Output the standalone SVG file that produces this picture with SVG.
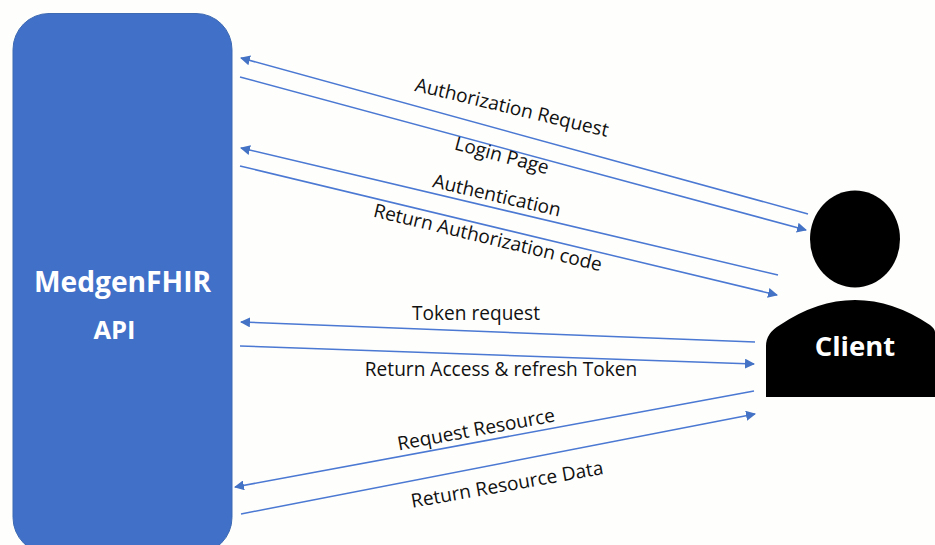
<svg xmlns="http://www.w3.org/2000/svg" width="935" height="545" viewBox="0 0 935 545">
<style>
text{font-family:"Open Sans","Noto Sans","Liberation Sans",sans-serif;text-anchor:middle;dominant-baseline:central}
.l{font-size:19.100px;fill:#111}
.w{font-weight:700;fill:#fff}
.c{stroke:#4a78d2;stroke-width:1.500;fill:none}
.a{marker-end:url(#ah)}
</style>
<defs>
<marker id="ah" viewBox="0 0 10 10" refX="9" refY="5" markerWidth="10" markerHeight="10" orient="auto" markerUnits="userSpaceOnUse"><path d="M0 0L10 5L0 10Z" fill="#4472c4"/></marker>
</defs>
<rect width="935" height="545" fill="#fefefc"/>
<g id="api">
<rect x="13" y="13.500" width="219" height="540" rx="36" ry="36" fill="#4070c8" stroke="#3f6bb3" stroke-width="1"/>
<text class="w" x="122.500" y="281" font-size="28.200">MedgenFHIR</text>
<text class="w" x="114.500" y="329" font-size="25.500">API</text>
</g>
<g id="client">
<ellipse cx="855" cy="239" rx="45" ry="48.500" fill="#000"/>
<path d="M766 397V346Q766 333 780 325Q817 300 855 300Q893 300 930 325Q935 329 935 332V397Z" fill="#000"/>
<text class="w" x="855" y="345" font-size="27.500">Client</text>
</g>
<g id="connectors">
<line class="c a" x1="808" y1="214" x2="241" y2="58"/>
<line class="c a" x1="240" y1="77" x2="806" y2="230"/>
<line class="c a" x1="778" y1="275" x2="241" y2="148"/>
<line class="c a" x1="240" y1="166" x2="777" y2="295"/>
<line class="c a" x1="755" y1="342" x2="241" y2="322"/>
<line class="c a" x1="240" y1="346" x2="754" y2="364"/>
<line class="c a" x1="754" y1="391" x2="235" y2="487"/>
<line class="c a" x1="241" y1="514" x2="755" y2="414"/>
</g>
<g id="labels">
<text class="l" transform="translate(512 107) rotate(13.500)">Authorization Request</text>
<text class="l" transform="translate(502 155) rotate(15)">Login Page</text>
<text class="l" transform="translate(497 195) rotate(13)">Authentication</text>
<text class="l" transform="translate(488 237) rotate(13.500)">Return Authorization code</text>
<text class="l" x="476" y="313">Token request</text>
<text class="l" x="501" y="369">Return Access &amp; refresh Token</text>
<text class="l" transform="translate(476 429) rotate(-10.500)">Request Resource</text>
<text class="l" transform="translate(507 484) rotate(-10)">Return Resource Data</text>
</g>
</svg>
